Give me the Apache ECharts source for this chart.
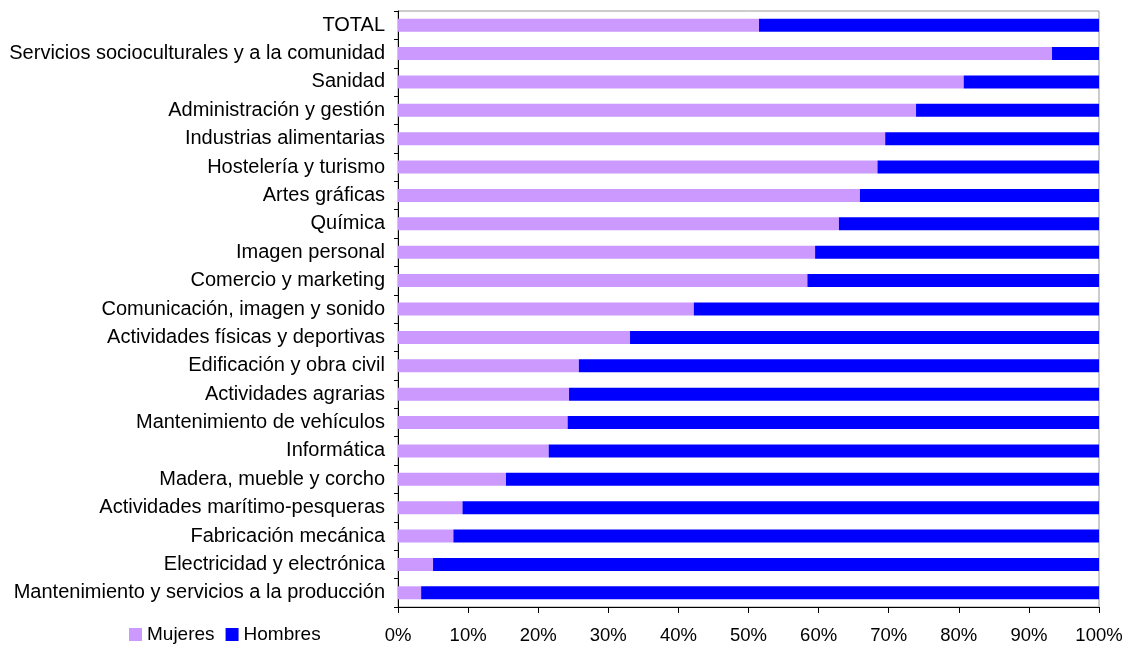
<!DOCTYPE html>
<html lang="es">

<head>
    <meta charset="UTF-8">
    <title>Mujeres y hombres por familia profesional</title>
    <style>
        html, body { margin: 0; padding: 0; background: #fff; }
        #bar { width: 1126px; height: 645px; }
    </style>
    <script src="https://cdn.jsdelivr.net/npm/echarts@6/dist/echarts.min.js"></script>
</head>

<body>
    <div id="bar"></div>
    <script>
        var categories = [
            'TOTAL',
            'Servicios socioculturales y a la comunidad',
            'Sanidad',
            'Administración y gestión',
            'Industrias alimentarias',
            'Hostelería y turismo',
            'Artes gráficas',
            'Química',
            'Imagen personal',
            'Comercio y marketing',
            'Comunicación, imagen y sonido',
            'Actividades físicas y deportivas',
            'Edificación y obra civil',
            'Actividades agrarias',
            'Mantenimiento de vehículos',
            'Informática',
            'Madera, mueble y corcho',
            'Actividades marítimo-pesqueras',
            'Fabricación mecánica',
            'Electricidad y electrónica',
            'Mantenimiento y servicios a la producción'
        ];
        // % mujeres
        var mujeres = [51.5, 93.3, 80.7, 73.9, 69.5, 68.4, 65.9, 62.9, 59.5, 58.4, 42.2,
            33.1, 25.8, 24.4, 24.2, 21.5, 15.4, 9.2, 7.9, 5.0, 3.3];
        // % hombres
        var hombres = [48.5, 6.7, 19.3, 26.1, 30.5, 31.6, 34.1, 37.1, 40.5, 41.6, 57.8,
            66.9, 74.2, 75.6, 75.8, 78.5, 84.6, 90.8, 92.1, 95.0, 96.7];

        var font = 'Liberation Sans, Arial, sans-serif';

        echarts.init(document.getElementById('bar')).setOption({
            animation: false,
            textStyle: { fontFamily: font, color: '#000' },
            legend: {
                left: 129,
                top: 625,
                padding: 0,
                itemWidth: 13,
                itemHeight: 13,
                itemGap: 11,
                icon: 'rect',
                textStyle: { fontFamily: font, fontSize: 19, color: '#000' },
                data: ['Mujeres', 'Hombres']
            },
            grid: {
                left: 398,
                right: 27,
                top: 11,
                bottom: 38,
                show: true,
                borderColor: '#999',
                borderWidth: 1
            },
            xAxis: {
                type: 'value',
                min: 0,
                max: 100,
                interval: 10,
                axisLine: { show: true, lineStyle: { color: '#000', width: 1 } },
                axisTick: { show: true, length: 6, lineStyle: { color: '#000' } },
                splitLine: { show: false },
                axisLabel: {
                    formatter: '{value}%',
                    margin: 19,
                    fontFamily: font,
                    fontSize: 18.5,
                    color: '#000'
                }
            },
            yAxis: {
                type: 'category',
                inverse: true,
                data: categories,
                axisLine: { show: true, lineStyle: { color: '#000', width: 1 } },
                axisTick: { show: true, length: 4, lineStyle: { color: '#000' } },
                axisLabel: {
                    margin: 13,
                    fontFamily: font,
                    fontSize: 20,
                    color: '#000'
                }
            },
            series: [
                {
                    name: 'Mujeres',
                    type: 'bar',
                    stack: 'total',
                    barWidth: 13,
                    itemStyle: { color: '#CC99FF' },
                    data: mujeres
                },
                {
                    name: 'Hombres',
                    type: 'bar',
                    stack: 'total',
                    barWidth: 13,
                    itemStyle: { color: '#0000FF' },
                    data: hombres
                }
            ]
        });
    </script>
</body>

</html>
